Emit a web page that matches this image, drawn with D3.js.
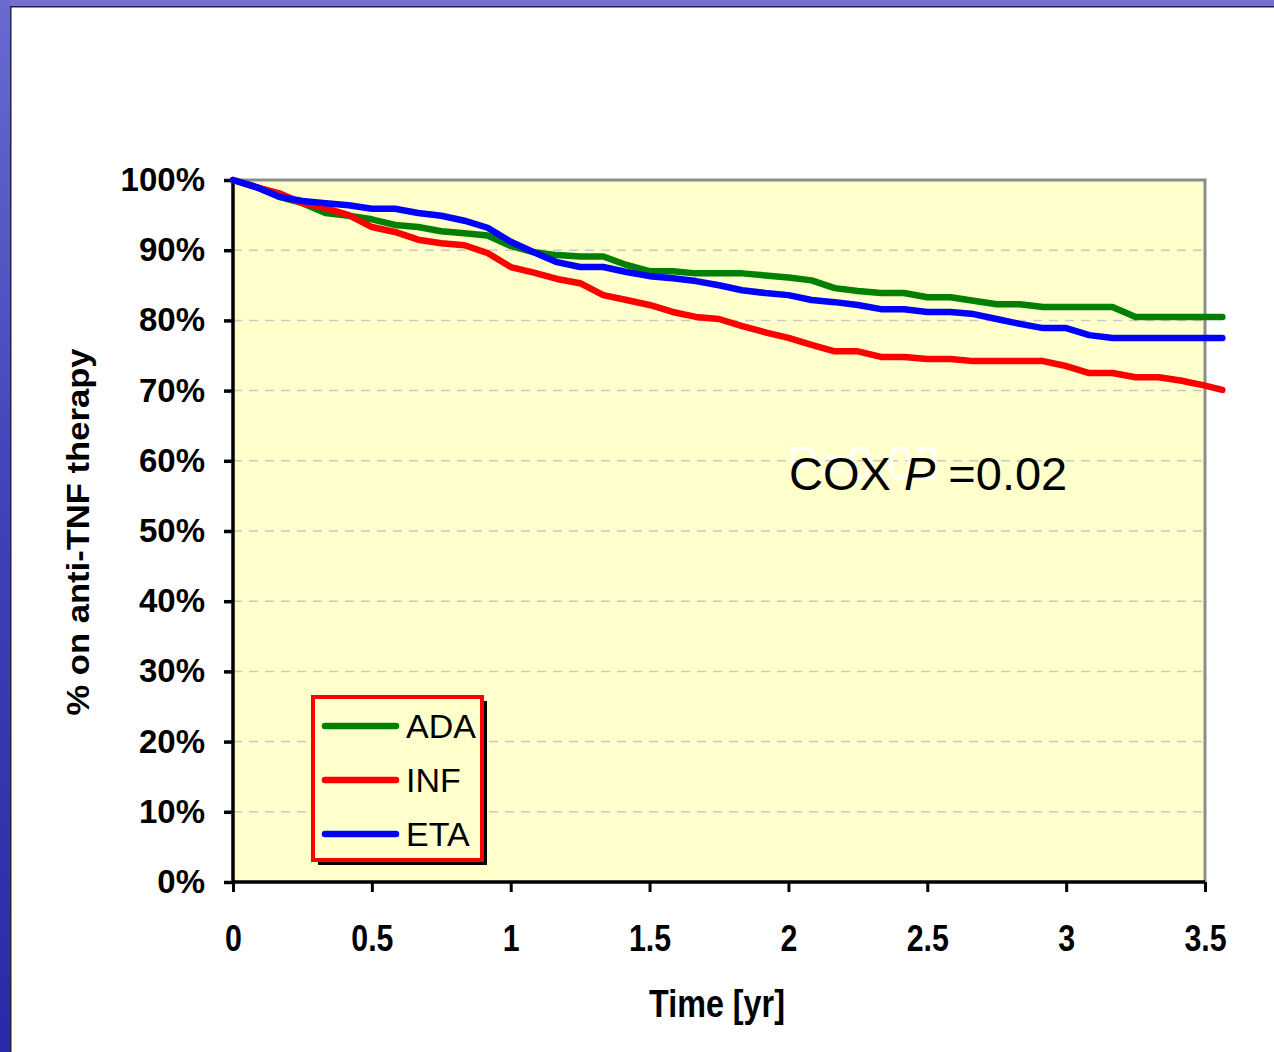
<!DOCTYPE html>
<html>
<head>
<script src="https://d3js.org/d3.v7.min.js"></script>
<style>
    body { margin: 0; background: #ffffff; }
    svg { display: block; }
    text { font-family: 'Liberation Sans', Arial, sans-serif; }
</style>
</head>
<body>
<div id="chart"></div>
<script>
// months since start of anti-TNF therapy
var months = [0, 1, 2, 3, 4, 5, 6, 7, 8, 9, 10, 11, 12, 13, 14, 15, 16, 17, 18, 19, 20,
    21, 22, 23, 24, 25, 26, 27, 28, 29, 30, 31, 32, 33, 34, 35, 36, 37, 38, 39, 40, 41, 42, 42.75];

// % still on therapy
var ada = [100, 99.0, 97.6, 96.7, 95.3, 94.9, 94.4, 93.6, 93.3, 92.7, 92.4, 92.1, 90.6, 89.7, 89.3,
    89.1, 89.1, 87.9, 87.0, 87.0, 86.7, 86.7, 86.7, 86.4, 86.1, 85.7, 84.6, 84.2, 83.9, 83.9, 83.3,
    83.3, 82.8, 82.3, 82.3, 81.9, 81.9, 81.9, 81.9, 80.5, 80.5, 80.5, 80.5, 80.5];
var inf = [100, 99.0, 98.1, 96.7, 96.0, 95.0, 93.3, 92.6, 91.5, 91.0, 90.7, 89.6, 87.6, 86.8, 85.9,
    85.3, 83.6, 82.9, 82.2, 81.2, 80.5, 80.2, 79.2, 78.3, 77.5, 76.5, 75.6, 75.6, 74.8, 74.8, 74.5,
    74.5, 74.2, 74.2, 74.2, 74.2, 73.5, 72.5, 72.5, 71.9, 71.9, 71.4, 70.7, 70.1];
var eta = [100, 99.0, 97.6, 97.0, 96.7, 96.4, 95.9, 95.9, 95.3, 94.9, 94.2, 93.2, 91.2, 89.7, 88.3,
    87.6, 87.6, 86.9, 86.3, 86.0, 85.6, 85.0, 84.3, 83.9, 83.6, 82.9, 82.6, 82.2, 81.6, 81.6, 81.2,
    81.2, 80.9, 80.2, 79.5, 78.9, 78.9, 77.9, 77.5, 77.5, 77.5, 77.5, 77.5, 77.5];

var seriesNames = ["ADA", "INF", "ETA"];
var seriesColors = ["#008000", "#ff0000", "#0000ff"];
var xTicks = [0, 0.5, 1, 1.5, 2, 2.5, 3, 3.5];
var yTicks = [0, 10, 20, 30, 40, 50, 60, 70, 80, 90, 100];

var W = 1274, H = 1052;
var margin = {top: 180, right: 69, bottom: 170, left: 233};
var width = W - margin.left - margin.right,
    height = H - margin.top - margin.bottom;

var svg = d3.select("#chart").append("svg")
    .attr("width", W)
    .attr("height", H);

// slide frame
var defs = svg.append("defs");
var grad = defs.append("linearGradient").attr("id", "side")
    .attr("x1", 0).attr("y1", 0).attr("x2", 0).attr("y2", 1);
grad.append("stop").attr("offset", "0%").attr("stop-color", "#6a6ad0");
grad.append("stop").attr("offset", "50%").attr("stop-color", "#4040b8");
grad.append("stop").attr("offset", "100%").attr("stop-color", "#2a2aa8");
svg.append("rect").attr("x", 0).attr("y", 0).attr("width", W).attr("height", 6).attr("fill", "#7272cf");
svg.append("rect").attr("x", 0).attr("y", 0).attr("width", 10).attr("height", H).attr("fill", "url(#side)");
svg.append("rect").attr("x", 10).attr("y", 6).attr("width", W).attr("height", 1.5).attr("fill", "#222244");
svg.append("rect").attr("x", 10).attr("y", 6).attr("width", 1.5).attr("height", H).attr("fill", "#222244");

var g = svg.append("g").attr("transform", "translate(" + margin.left + "," + margin.top + ")");

var x = d3.scaleLinear().domain([0, 3.5]).range([0, width]);
var y = d3.scaleLinear().domain([0, 100]).range([height, 0]);

g.append("rect").attr("width", width).attr("height", height).attr("fill", "#ffffcc");

// dashed gridlines
g.selectAll(".grid").data(yTicks.filter(function (d) { return d > 0 && d < 100; }))
    .enter().append("line")
    .attr("x1", 0).attr("x2", width)
    .attr("y1", function (d) { return y(d); })
    .attr("y2", function (d) { return y(d); })
    .attr("stroke", "#c8c8c8").attr("stroke-width", 1.5)
    .attr("stroke-dasharray", "9,7");

// top and right frame
g.append("path")
    .attr("d", "M0," + y(100) + "H" + x(3.5) + "V" + y(0))
    .attr("fill", "none").attr("stroke", "#8c8c8c").attr("stroke-width", 3);

// axes
var yAxis = d3.axisLeft(y).tickValues(yTicks).tickSize(9).tickPadding(19)
    .tickFormat(function (d) { return d + "%"; });
var xAxis = d3.axisBottom(x).tickValues(xTicks).tickSize(10).tickPadding(33)
    .tickFormat(d3.format("~g"));

var ya = g.append("g").call(yAxis);
ya.select(".domain").attr("stroke-width", 3.5).attr("d", "M0,0V" + height);
ya.selectAll(".tick line").attr("stroke-width", 3.5);
ya.selectAll("text").attr("font-size", 33).attr("font-weight", "bold").attr("fill", "#000")
    .attr("font-family", "'Liberation Sans', Arial, sans-serif");

var xa = g.append("g").attr("transform", "translate(0," + height + ")").call(xAxis);
xa.select(".domain").attr("stroke-width", 3.5).attr("d", "M0,0H" + width);
xa.selectAll(".tick line").attr("stroke-width", 3);
xa.selectAll("text").attr("font-size", 37).attr("font-weight", "bold").attr("fill", "#000")
    .attr("font-family", "'Liberation Sans', Arial, sans-serif")
    .attr("transform", "scale(0.82,1)");

// axis titles
svg.append("text")
    .attr("transform", "translate(717,1017) scale(0.85,1)")
    .attr("text-anchor", "middle")
    .attr("font-size", 38).attr("font-weight", "bold")
    .text("Time [yr]");

svg.append("text")
    .attr("transform", "translate(89,532) rotate(-90)")
    .attr("text-anchor", "middle")
    .attr("font-size", 32).attr("font-weight", "bold")
    .attr("textLength", 367).attr("lengthAdjust", "spacingAndGlyphs")
    .text("% on anti-TNF therapy");

// curves
var line = d3.line()
    .x(function (d) { return x(d[0] / 12); })
    .y(function (d) { return y(d[1]); });

var series = [ada, inf, eta];
series.forEach(function (vals, i) {
    g.append("path")
        .datum(months.map(function (m, j) { return [m, vals[j]]; }))
        .attr("d", line)
        .attr("fill", "none")
        .attr("stroke", seriesColors[i])
        .attr("stroke-width", 6.5)
        .attr("stroke-linejoin", "round")
        .attr("stroke-linecap", "round");
});

// p value annotation (faded copy behind, as on the slide)
svg.append("text")
    .attr("x", 787).attr("y", 480)
    .attr("font-size", 48).attr("fill", "#ffffff").attr("fill-opacity", 0.85)
    .text("P=0.02");

var cox = svg.append("text")
    .attr("x", 789).attr("y", 490)
    .attr("font-size", 47).attr("fill", "#000");
cox.append("tspan").text("COX ");
cox.append("tspan").attr("font-style", "italic").text("P");
cox.append("tspan").text(" =0.02");

// legend
var lg = svg.append("g");
lg.append("rect").attr("x", 318).attr("y", 701).attr("width", 169).attr("height", 164).attr("fill", "#000");
lg.append("rect").attr("x", 313).attr("y", 697).attr("width", 169).attr("height", 163)
    .attr("fill", "#ffffcc").attr("stroke", "#ff0000").attr("stroke-width", 4);
var legY = [726, 780, 834];
seriesNames.forEach(function (name, i) {
    lg.append("line")
        .attr("x1", 325).attr("x2", 396)
        .attr("y1", legY[i]).attr("y2", legY[i])
        .attr("stroke", seriesColors[i]).attr("stroke-width", 6.5)
        .attr("stroke-linecap", "round");
    lg.append("text")
        .attr("x", 406).attr("y", legY[i] + 12)
        .attr("font-size", 34).attr("fill", "#000")
        .text(name);
});
</script>
</body>
</html>
